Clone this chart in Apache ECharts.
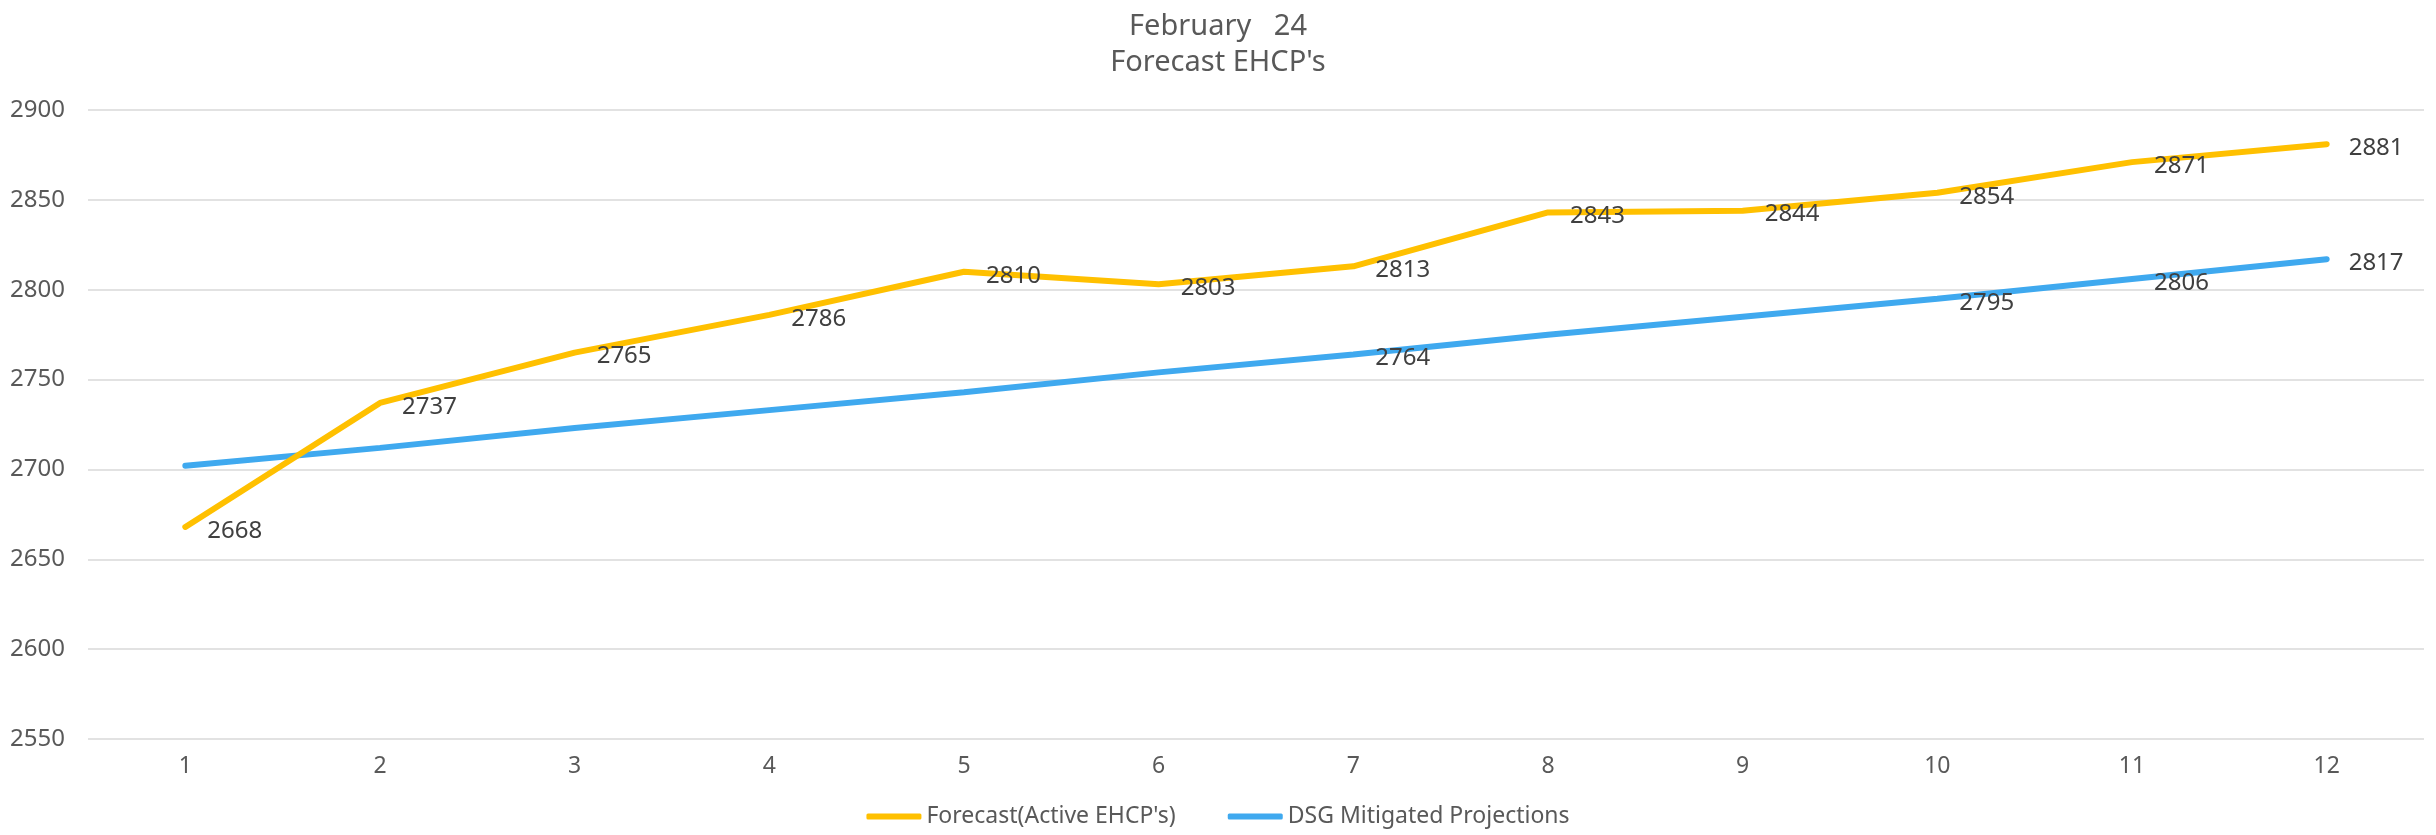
<!DOCTYPE html>
<html>
<head>
<meta charset="utf-8">
<script src="https://cdn.jsdelivr.net/npm/echarts@6/dist/echarts.min.js"></script>
<style>
  html, body { margin: 0; padding: 0; background: #fff; }
  #chart { width: 2436px; height: 835px; }
</style>
</head>
<body>
<div id="chart"></div>
<script>
// months ahead
const months = ['1', '2', '3', '4', '5', '6', '7', '8', '9', '10', '11', '12'];
const forecastActive = [2668, 2737, 2765, 2786, 2810, 2803, 2813, 2843, 2844, 2854, 2871, 2881];
const dsgMitigated = [2702, 2712, 2723, 2733, 2743, 2754, 2764, 2775, 2785, 2795, 2806, 2817];
// only these points of the blue line carry a label
const dsgLabelled = [7, 10, 11, 12];

const labelStyle = {
    show: true,
    position: 'right',
    distance: 21,
    offset: [0, 4],
    color: '#404040',
    fontSize: 24,
    fontFamily: 'Noto Sans'
};

const chart = echarts.init(document.getElementById('chart'));

const option = {
    animation: false,
    backgroundColor: '#ffffff',
    textStyle: { fontFamily: 'Noto Sans' },
    title: {
        text: 'February   24\nForecast EHCP\'s',
        left: 'center',
        top: 4,
        textStyle: { color: '#595959', fontSize: 29, fontWeight: 'normal', lineHeight: 36 }
    },
    legend: {
        bottom: 2,
        left: 'center',
        icon: 'roundRect',
        itemWidth: 55,
        itemHeight: 6,
        itemGap: 52,
        textStyle: { color: '#595959', fontSize: 23 },
        data: ['Forecast(Active EHCP\'s)', 'DSG Mitigated Projections']
    },
    grid: { left: 88, right: 12, top: 110, bottom: 96, containLabel: false },
    xAxis: {
        type: 'category',
        data: months,
        boundaryGap: true,
        axisLine: { show: false },
        axisTick: { show: false },
        axisLabel: { color: '#595959', fontSize: 23, margin: 16 }
    },
    yAxis: {
        type: 'value',
        min: 2550,
        max: 2900,
        interval: 50,
        axisLine: { show: false },
        axisTick: { show: false },
        axisLabel: { color: '#595959', fontSize: 24, margin: 23, formatter: (v) => String(v) },
        splitLine: { lineStyle: { color: '#d9d9d9', width: 1.5 } }
    },
    series: [
        {
            name: 'Forecast(Active EHCP\'s)',
            type: 'line',
            data: forecastActive,
            showSymbol: true,
            symbol: 'circle',
            symbolSize: 2,
            itemStyle: { color: '#FFC000' },
            lineStyle: { width: 6, color: '#FFC000', cap: 'round' },
            label: labelStyle,
            z: 3
        },
        {
            name: 'DSG Mitigated Projections',
            type: 'line',
            data: dsgMitigated.map((v, i) => ({
                value: v,
                label: { show: dsgLabelled.includes(i + 1) }
            })),
            showSymbol: true,
            symbol: 'circle',
            symbolSize: 2,
            itemStyle: { color: '#3FA9EF' },
            lineStyle: { width: 6, color: '#3FA9EF', cap: 'round' },
            label: labelStyle,
            z: 2
        }
    ]
};

chart.setOption(option);
</script>
</body>
</html>
